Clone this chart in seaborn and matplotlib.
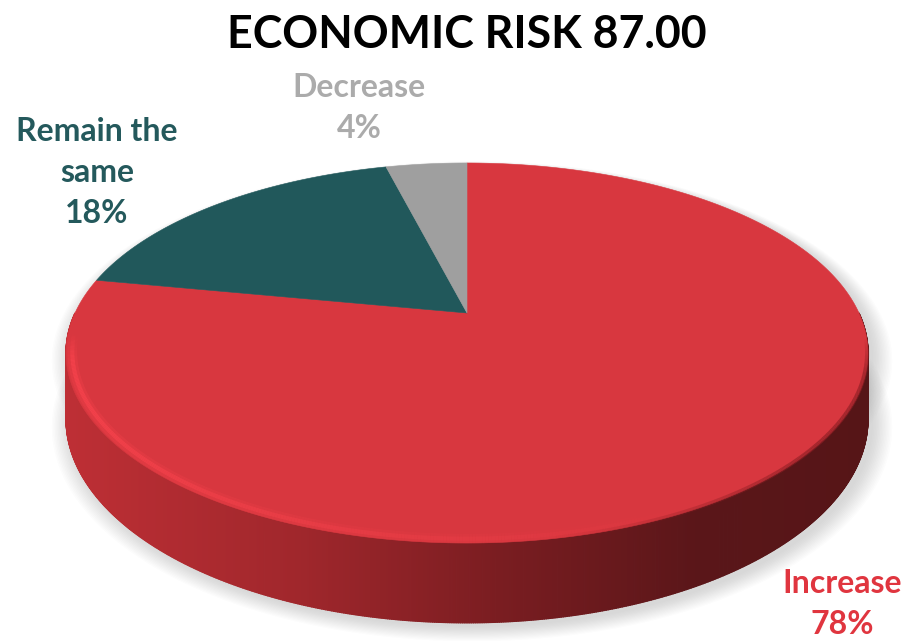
import numpy as np
import matplotlib
matplotlib.use("Agg")
import matplotlib.pyplot as plt
import seaborn as sns
from matplotlib.patches import Polygon
from matplotlib.collections import PolyCollection, LineCollection

# ---- data -------------------------------------------------------------
categories = ["Increase", "Remain the same", "Decrease"]
shares = [78, 18, 4]
label_lines = ["Increase", "Remain the\nsame", "Decrease"]
title = "ECONOMIC RISK 87.00"

# ---- style ------------------------------------------------------------
sns.set_theme(style="white")
plt.rcParams["font.family"] = ["Lato", "DejaVu Sans"]

face_colors = ["#D8373F", "#21585B", "#9F9F9F"]
label_colors = ["#E0353F", "#24595C", "#ABABAB"]
label_pos = [(842, 634), (97, 223), (359, 138)]   # centre x, baseline of last line

W, H = 906, 641
fig = plt.figure(figsize=(W / 100, H / 100), dpi=100)
ax = fig.add_axes([0, 0, 1, 1])
ax.set_xlim(0, W)
ax.set_ylim(H, 0)
ax.axis("off")

# unit pie laid out by matplotlib; its wedges are re-projected onto a tilted disc
pax = fig.add_axes([0, 0, 0.1, 0.1])
wedges, _ = pax.pie(shares, startangle=90, counterclock=False, radius=1.0)
geo = [(w.theta1, w.theta2, w.r) for w in wedges]
pax.remove()

# perspective view of the disc
CX, CY, A, B, K, DEPTH = 467, 313, 392, 181.6, 0.2105, 63


def project(x, y, z=0.0):
    w = 1 + K * y
    return CX + A * x / w, CY - (B * y + DEPTH * z) / w


def ring(t_deg, r=1.0, z=0.0):
    t = np.radians(t_deg)
    return project(r * np.cos(t), r * np.sin(t), z)


def fading_line(t_from, t_to, r, rgb, alpha_fn, lw, z):
    tt = np.linspace(t_from, t_to, 300)
    px, py = ring(tt, r, 0)
    segs = [[(px[i], py[i]), (px[i + 1], py[i + 1])] for i in range(len(tt) - 1)]
    cols = np.zeros((len(segs), 4))
    cols[:, :3] = np.array(rgb) / 255
    cols[:, 3] = alpha_fn(tt[:-1])
    ax.add_collection(LineCollection(segs, colors=cols, linewidths=lw, zorder=z,
                                     capstyle="butt"))


# soft drop shadow
full = np.linspace(0, 360, 361)
for i in range(14):
    s = 1.0 + 0.0035 * i
    bx, by = ring(full, s, -1)
    tx, ty = ring(full, s, 0)
    for px, py in ((bx, by), (tx, ty)):
        ax.add_patch(Polygon(np.column_stack([px + 5, py + 4]), closed=True,
                             facecolor="#7a7a7a", edgecolor="none", alpha=0.018,
                             zorder=1))

# side wall of the cylinder, shaded left to right
ts = np.linspace(180, 360, 721)
tx, ty = ring(ts, 1, 0)
bx, by = ring(ts, 1, -1)
quads = []
cols = []
gx = [66, 300, 500, 700, 870]
gc = np.array([(190, 47, 53), (160, 39, 44), (122, 29, 33), (90, 22, 25), (86, 21, 23)]) / 255
for i in range(len(ts) - 1):
    quads.append([(tx[i], ty[i]), (tx[i + 1], ty[i + 1]),
                  (bx[i + 1], by[i + 1]), (bx[i], by[i])])
    xm = 0.5 * (tx[i] + tx[i + 1])
    cols.append([np.interp(xm, gx, gc[:, c]) for c in range(3)])
ax.add_collection(PolyCollection(quads, facecolors=cols, edgecolors=cols,
                                 linewidths=0.9, zorder=2))

# top face wedges
for (t1, t2, r), col in zip(geo, face_colors):
    tt = np.linspace(t1, t2, 400)
    px, py = ring(tt, r, 0)
    cx0, cy0 = project(0, 0, 0)
    pts = np.column_stack([np.r_[cx0, px], np.r_[cy0, py]])
    ax.add_patch(Polygon(pts, closed=True, facecolor=col, edgecolor=col,
                         linewidth=0.4, zorder=3))

# bevel highlight along the front-left rim (layered for a soft edge)
ramp = lambda t, peak: peak * np.clip((t - 186) / 8, 0, 1) * np.clip((300 - t) / 90, 0, 1)
fading_line(186, 300, 0.985, (255, 70, 80), lambda t: ramp(t, 0.25), 7, 4)
fading_line(186, 300, 0.985, (255, 70, 80), lambda t: ramp(t, 0.55), 3, 4)

# soft dark transition on the right-hand rim
fading_line(280, 352, 0.998, (140, 30, 36),
            lambda t: 0.7 * np.clip((t - 280) / 40, 0, 1) * np.clip((352 - t) / 10, 0, 1),
            3, 4)

# labels
for name, val, col, (lx, ly) in zip(label_lines, shares, label_colors, label_pos):
    ax.text(lx, ly, f"{name}\n{val}%", color=col, fontsize=23, fontweight="bold",
            ha="center", va="baseline", linespacing=1.49, zorder=6)

ax.text(467, 48, title, fontsize=32.1, fontweight="bold", color="black",
        ha="center", va="baseline", zorder=6)

fig.savefig("out.png", dpi=100)
